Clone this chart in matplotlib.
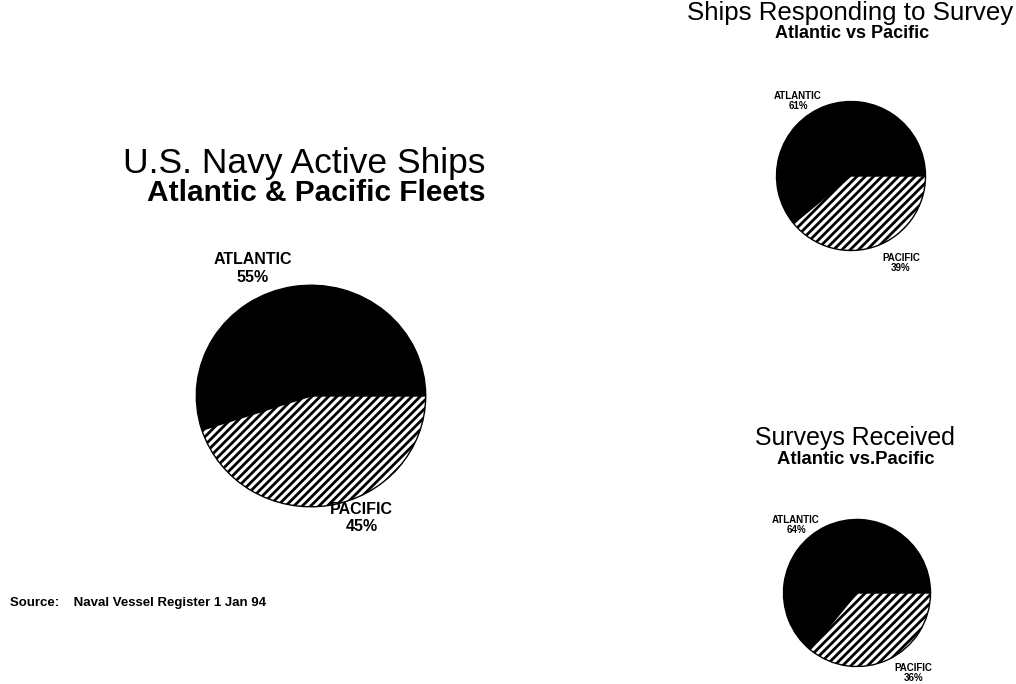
import matplotlib.pyplot as plt

plt.rcParams['font.family'] = ['Liberation Sans', 'DejaVu Sans']
plt.rcParams['hatch.color'] = 'black'
plt.rcParams['hatch.linewidth'] = 2.0

# data
fleets = ['ATLANTIC', 'PACIFIC']
active_ships = [55, 45]
ships_responding = [61, 39]
surveys_received = [64, 36]
source_note = 'Source:    Naval Vessel Register 1 Jan 94'

W, H = 1016, 684
fig = plt.figure(figsize=(W / 100, H / 100), dpi=100)
fig.patch.set_facecolor('white')


def pie_axes(cx, cy, rx, ry=None):
    # pixel centre / radii -> figure axes (scan is a bit squashed)
    ry = rx if ry is None else ry
    return fig.add_axes([(cx - rx) / W, (H - cy - ry) / H, 2 * rx / W, 2 * ry / H])


def draw_pie(ax, values, lab_pos, fs, ls=1.0):
    wedges, _ = ax.pie(values, startangle=0, counterclock=True,
                       colors=['black', 'white'],
                       wedgeprops=dict(edgecolor='black', linewidth=1.0))
    wedges[1].set_hatch('////')
    ax.set_aspect('auto')
    ax.set_xlim(-1.02, 1.02)
    ax.set_ylim(-1.02, 1.02)
    for name, v, (x, y) in zip(fleets, values, lab_pos):
        ax.text(x, y, f'{name}\n{v}%', ha='center', va='center',
                fontsize=fs, fontweight='bold', linespacing=ls, clip_on=False)


def ftext(x, y, s, **kw):
    fig.text(x / W, 1 - y / H, s, ha='center', va='center', **kw)


# main chart
ftext(304, 163, 'U.S. Navy Active Ships', fontsize=25.5)
ftext(316, 193, 'Atlantic & Pacific Fleets', fontsize=21.5, fontweight='bold')
ax = pie_axes(311, 396, 117, 113)
draw_pie(ax, active_ships, [(-0.51, 1.15), (0.44, -1.1)], 11.5, ls=1.2)
fig.text(10 / W, 1 - 603 / H, source_note, ha='left', va='center',
         fontsize=9.5, fontweight='bold')

# ships responding
ftext(850, 13, 'Ships Responding to Survey', fontsize=18.6)
ftext(852, 33, 'Atlantic vs Pacific', fontsize=13, fontweight='bold')
ax = pie_axes(851, 176, 76)
draw_pie(ax, ships_responding, [(-0.71, 1.01), (0.67, -1.17)], 7)

# surveys received
ftext(855, 438, 'Surveys Received', fontsize=17.9)
ftext(856, 459, 'Atlantic vs.Pacific', fontsize=13.3, fontweight='bold')
ax = pie_axes(857, 593, 75)
draw_pie(ax, surveys_received, [(-0.83, 0.92), (0.77, -1.09)], 7)

fig.savefig('out.png', dpi=100, facecolor='white')
